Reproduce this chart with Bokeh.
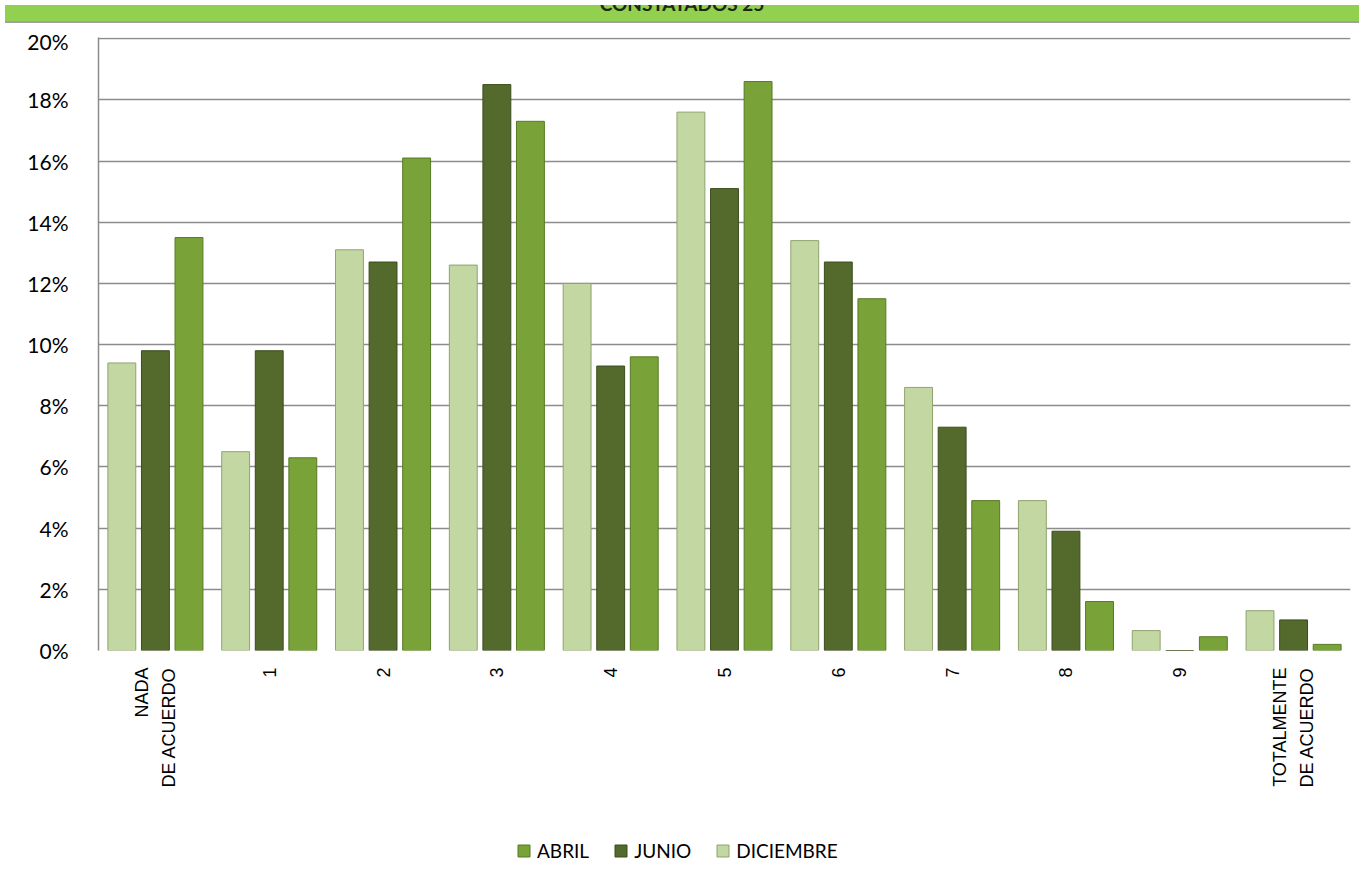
import math
from bokeh.plotting import figure
from bokeh.models import (ColumnDataSource, FactorRange, Legend, LegendItem, Div,
                          NumeralTickFormatter, FixedTicker, Range1d)
from bokeh.core.properties import value
from bokeh.transform import dodge
from bokeh.layouts import column
from bokeh.embed import file_html
from bokeh.resources import INLINE

# ---------------- data ----------------
categories = ["NADA\nDE ACUERDO", "1", "2", "3", "4", "5", "6", "7", "8", "9",
              "TOTALMENTE\nDE ACUERDO"]
diciembre = [9.4, 6.5, 13.1, 12.6, 12.0, 17.6, 13.4, 8.6, 4.9, 0.65, 1.3]
junio = [9.8, 9.8, 12.7, 18.5, 9.3, 15.1, 12.7, 7.3, 3.9, 0.0, 1.0]
abril = [13.5, 6.3, 16.1, 17.3, 9.6, 18.6, 11.5, 4.9, 1.6, 0.45, 0.2]
y_ticks = [0, 2, 4, 6, 8, 10, 12, 14, 16, 18, 20]
title_text = "CONSTATADOS 25"

src = ColumnDataSource(dict(
    cat=categories,
    dic=[v / 100 for v in diciembre],
    jun=[v / 100 for v in junio],
    abr=[v / 100 for v in abril],
))

W, H_BAND = 1354, 18
COLORS = {"dic": ("#c3d7a2", "#8fa36f"),
          "jun": ("#536a2c", "#3b4d1d"),
          "abr": ("#79a238", "#577a23")}
OFFS = {"dic": -0.295, "jun": 0.0, "abr": 0.295}
BW = 0.245

xr = FactorRange(*categories)

# ---------------- main chart ----------------
p = figure(x_range=xr, y_range=Range1d(0, 0.2004),
           frame_width=1252, frame_height=613, output_backend="svg",
           toolbar_location=None, x_axis_location=None,
           min_border_left=98, min_border_right=4, min_border_top=9,
           min_border_bottom=12)
p.outline_line_color = None
p.background_fill_color = "white"
p.border_fill_color = "white"

for key in ["dic", "jun", "abr"]:
    p.vbar(x=dodge("cat", OFFS[key], range=xr), top=key, width=BW, source=src,
           fill_color=COLORS[key][0], line_color=COLORS[key][1], line_width=1)

p.yaxis.ticker = FixedTicker(ticks=[t / 100 for t in y_ticks])
p.yaxis.formatter = NumeralTickFormatter(format="0%")
p.yaxis.major_label_text_font = "Lato"
p.yaxis.major_label_text_font_size = "21px"
p.yaxis.major_label_text_color = "#000000"
p.yaxis.major_label_standoff = 24
p.yaxis.major_tick_line_color = None
p.yaxis.minor_tick_line_color = None
p.yaxis.axis_line_color = "#8c8c8c"
p.yaxis.axis_line_width = 1.5

p.xgrid.grid_line_color = None
p.ygrid.grid_line_color = "#8c8c8c"
p.ygrid.grid_line_width = 1.3

# ---------------- category labels + legend strip ----------------
p2 = figure(x_range=xr, y_range=Range1d(1, 2),
            frame_width=1252, height=218, output_backend="svg",
            toolbar_location=None, x_axis_location=None, y_axis_location=None,
            min_border_left=98, min_border_right=4, min_border_top=0,
            min_border_bottom=0)
p2.outline_line_color = None
p2.grid.visible = False
p2.background_fill_color = "white"
p2.border_fill_color = "white"

p2.text(x="cat", y=2, text="cat", source=src, angle=math.pi / 2,
        text_align="right", text_baseline="middle", y_offset=5,
        text_font=value("Liberation Sans"), text_font_size="18px",
        text_color="#000000", text_line_height=1.35)

# legend renderers (bars fall outside this strip's y-range, so only the legend shows)
leg_r = {}
for key in ["dic", "jun", "abr"]:
    leg_r[key] = p2.vbar(x=dodge("cat", OFFS[key], range=xr), top=key, width=BW,
                         source=src, fill_color=COLORS[key][0],
                         line_color=COLORS[key][1], line_width=1)

legend = Legend(items=[LegendItem(label="ABRIL", renderers=[leg_r["abr"]]),
                       LegendItem(label="JUNIO", renderers=[leg_r["jun"]]),
                       LegendItem(label="DICIEMBRE", renderers=[leg_r["dic"]])],
                orientation="horizontal", location=(418, 18),
                label_text_font="Lato", label_text_font_size="19px",
                label_text_color="#000000", glyph_width=15, glyph_height=15,
                label_standoff=6, spacing=24, padding=0, margin=0,
                border_line_color=None, background_fill_alpha=0)
p2.add_layout(legend, "center")

band = Div(text=f'<div style="position:relative;top:-15px;text-align:center;'
                f'font-family:Lato;font-weight:bold;font-size:19px;color:#1c2a10;'
                f'width:{W}px;">{title_text}</div>',
           width=W, height=H_BAND,
           styles={"background-color": "#92d050", "overflow": "hidden",
                   "border-bottom": "2px solid #a0a0a0"})

layout = column(band, p, p2, spacing=0)
open("out.html", "w").write(file_html(layout, INLINE))
